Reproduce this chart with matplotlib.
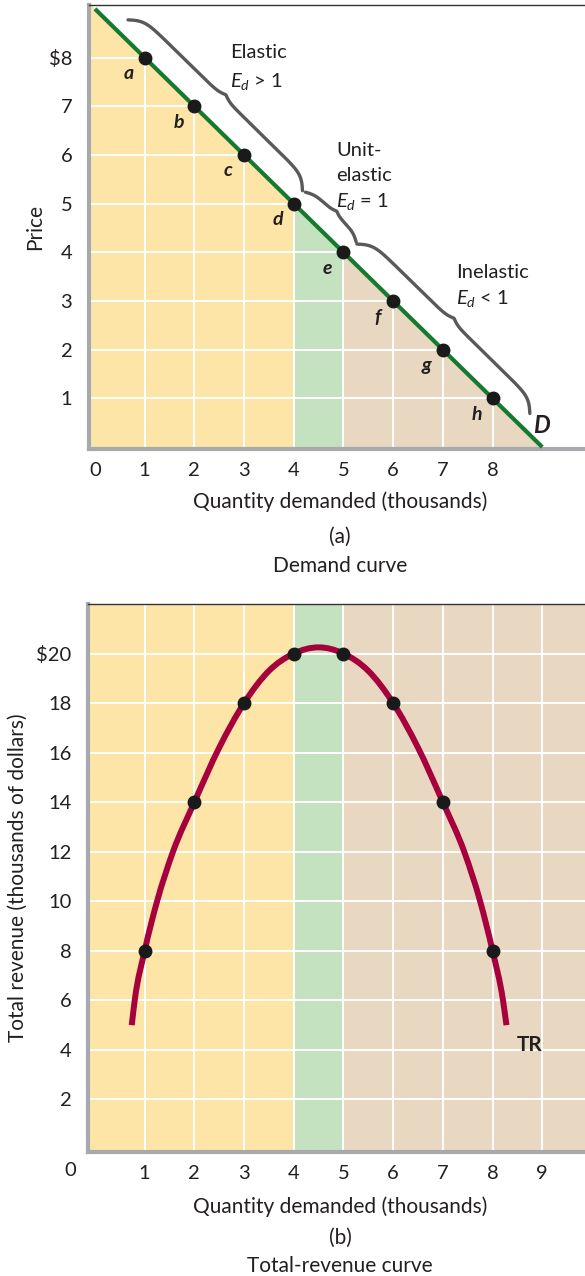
import numpy as np
import matplotlib
matplotlib.use("Agg")
from matplotlib import pyplot as plt
from matplotlib.path import Path
from matplotlib.patches import PathPatch

plt.rcParams['font.family'] = ['Lato', 'DejaVu Sans']
plt.rcParams['mathtext.fontset'] = 'custom'
plt.rcParams['mathtext.rm'] = 'Lato'
plt.rcParams['mathtext.it'] = 'Lato:italic'

# demand schedule
quantity = [1, 2, 3, 4, 5, 6, 7, 8]
price = [8, 7, 6, 5, 4, 3, 2, 1]
point_names = ['a', 'b', 'c', 'd', 'e', 'f', 'g', 'h']
line_q = [0, 9]
line_p = [9, 0]

# total revenue points and the curve
revenue = [8, 14, 18, 20, 20, 18, 14, 8]
tr_q = [0.74, 0.8, 1.0, 1.25, 1.57, 2.0, 2.5, 3.0, 3.5, 4.0, 4.5, 5.0, 5.5, 6.0, 6.5,
        7.0, 7.43, 7.75, 8.0, 8.21, 8.28]
tr_v = [5.0, 6.0, 8.0, 10.0, 12.0, 14.0, 16.2, 18.0, 19.3, 20.0, 20.25, 20.0, 19.3, 18.0, 16.2,
        14.0, 12.0, 10.0, 8.0, 6.0, 5.0]

yellow = '#FDE5A8'
green = '#C5E2C0'
tan = '#E8D8C2'
gray_spine = '#A7A9AC'
txt = '#231F20'
FS = 14.5
LS = 15

fig = plt.figure(figsize=(5.85, 12.76), dpi=100)

# ---------- (a) demand curve ----------
ax = fig.add_axes([89 / 585, 1 - 449 / 1276, 496 / 585, 444 / 1276])
ax.set_xlim(-0.12, 9.86)
ax.set_ylim(-0.04, 9.08)

def dem(q):
    return line_p[0] + (line_p[1] - line_p[0]) * (q - line_q[0]) / (line_q[1] - line_q[0])

for x0, x1, c in [(-0.12, 4, yellow), (4, 5, green), (5, 9, tan)]:
    qs = np.linspace(x0, x1, 50)
    ax.fill_between(qs, 0, dem(qs), color=c, lw=0, zorder=1)

for q in range(1, 9):
    ax.axvline(q, color='white', lw=1.4, zorder=2)
for p in range(1, 9):
    ax.axhline(p, color='white', lw=1.4, zorder=2)

ax.plot(line_q, line_p, color='#157A2F', lw=3, zorder=3, solid_capstyle='butt')
ax.plot(quantity, price, 'o', color='#1A1A1A', ms=9, zorder=4)
for q, p, n in zip(quantity, price, point_names):
    ax.annotate(n, (q, p), xytext=(-16, -16), textcoords='offset pixels',
                ha='center', va='center', fontsize=14, fontweight='bold',
                style='italic', color=txt)
ax.text(8.98, 0.45, 'D', fontsize=17, fontweight='bold', style='italic',
        ha='center', va='center', color=txt)


# curly braces beside the demand line; s runs along the quantity axis
def brace(ax, s0, s1, off, h1, h2, b1=11.0, b2=16.0):
    s = np.linspace(s0, s1, 600)
    um = (s1 - s0) / 2
    u = np.minimum(s - s0, s1 - s)
    hook = (1 / (1 + np.exp(-b1 * u)) - 0.5) * 2
    tip = 2 / (1 + np.exp(-b2 * (u - um)))
    d = off + h1 * hook + h2 * tip
    ax.plot(s + d / 2, dem(s) + d / 2, color='#58595B', lw=2.4,
            solid_capstyle='round', zorder=3, clip_on=False)


brace(ax, 0.445, 3.955, 0.44, 0.33, 0.10)
brace(ax, 4.0, 5.02, 0.47, 0.16, 0.08, b1=14.0, b2=20.0)
brace(ax, 5.05, 8.53, 0.44, 0.33, 0.10)

ax.text(2.72, 8.1, 'Elastic', fontsize=FS, color=txt, va='center')
ax.text(2.72, 7.5, '$E_d$ > 1', fontsize=FS, color=txt, va='center')
ax.text(4.85, 6.1, 'Unit-', fontsize=FS, color=txt, va='center')
ax.text(4.85, 5.57, 'elastic', fontsize=FS, color=txt, va='center')
ax.text(4.85, 5.04, '$E_d$ = 1', fontsize=FS, color=txt, va='center')
ax.text(7.27, 3.58, 'Inelastic', fontsize=FS, color=txt, va='center')
ax.text(7.27, 3.05, '$E_d$ < 1', fontsize=FS, color=txt, va='center')

ax.set_xticks(range(0, 9))
ax.set_xticklabels([str(i) for i in range(0, 9)])
ax.set_yticks(range(1, 9))
ax.set_yticklabels(['1', '2', '3', '4', '5', '6', '7', '$8'])
ax.tick_params(length=0, labelsize=FS, colors=txt, pad=9)
ax.tick_params(axis='y', pad=12)
for sp in ['left', 'bottom']:
    ax.spines[sp].set_color(gray_spine)
    ax.spines[sp].set_linewidth(3)
ax.spines['top'].set_color('#333333')
ax.spines['top'].set_linewidth(1)
ax.spines['right'].set_visible(False)
ax.set_ylabel('Price', fontsize=LS, color=txt, va='center')
ax.yaxis.set_label_coords((35 - 89) / 496, 0.5)
ax.set_xlabel('Quantity demanded (thousands)', fontsize=LS, color=txt, va='center')
ax.xaxis.set_label_coords(251 / 496, -(502 - 449) / 444)
fig.text(340 / 585, 1 - 537 / 1276, '(a)', fontsize=LS, color=txt, ha='center', va='center')
fig.text(340 / 585, 1 - 566 / 1276, 'Demand curve', fontsize=LS, color=txt, ha='center', va='center')

# ---------- (b) total revenue ----------
bx = fig.add_axes([88 / 585, 1 - 1151.5 / 1276, 497 / 585, 547.5 / 1276])
bx.set_xlim(-0.14, 9.86)
bx.set_ylim(-0.1, 22.0)
bx.axvspan(-0.14, 4, color=yellow, lw=0, zorder=1)
bx.axvspan(4, 5, color=green, lw=0, zorder=1)
bx.axvspan(5, 9.86, color=tan, lw=0, zorder=1)
for q in range(1, 10):
    bx.axvline(q, color='white', lw=1.4, zorder=2)
for v in range(2, 22, 2):
    bx.axhline(v, color='white', lw=1.4, zorder=2)

# smooth curve through the read points: cubic Hermite in q drawn as Bezier segments
tq = np.array(tr_q)
tv = np.array(tr_v)
n = len(tq)
slope = np.empty(n)
slope[0] = (tv[1] - tv[0]) / (tq[1] - tq[0])
slope[-1] = (tv[-1] - tv[-2]) / (tq[-1] - tq[-2])
for i in range(1, n - 1):
    h0, h1 = tq[i] - tq[i - 1], tq[i + 1] - tq[i]
    d0, d1 = (tv[i] - tv[i - 1]) / h0, (tv[i + 1] - tv[i]) / h1
    slope[i] = (h1 * d0 + h0 * d1) / (h0 + h1)
verts = [(tq[0], tv[0])]
codes = [Path.MOVETO]
for i in range(n - 1):
    h = (tq[i + 1] - tq[i]) / 3
    verts += [(tq[i] + h, tv[i] + slope[i] * h),
              (tq[i + 1] - h, tv[i + 1] - slope[i + 1] * h),
              (tq[i + 1], tv[i + 1])]
    codes += [Path.CURVE4] * 3
bx.add_patch(PathPatch(Path(verts, codes), fill=False, edgecolor='#A6003D',
                       lw=4.3, capstyle='butt', zorder=3))
bx.plot(quantity, revenue, 'o', color='#1A1A1A', ms=9, zorder=4)
bx.text(8.75, 4.2, 'TR', fontsize=15, fontweight='bold', ha='center', va='center', color=txt)

bx.set_xticks(range(1, 10))
bx.set_xticklabels([str(i) for i in range(1, 10)])
bx.set_yticks(range(2, 22, 2))
bx.set_yticklabels([str(v) for v in range(2, 20, 2)] + ['$20'])
bx.tick_params(length=0, labelsize=FS, colors=txt, pad=10)
bx.tick_params(axis='y', pad=12)
bx.text(-0.5, -0.85, '0', fontsize=FS, color=txt, ha='center', va='center')
for sp in ['left', 'bottom']:
    bx.spines[sp].set_color(gray_spine)
    bx.spines[sp].set_linewidth(3)
bx.spines['top'].set_color('#333333')
bx.spines['top'].set_linewidth(1)
bx.spines['right'].set_visible(False)
bx.set_ylabel('Total revenue (thousands of dollars)', fontsize=LS, color=txt, va='center')
bx.yaxis.set_label_coords((18 - 88) / 497, 0.5)
bx.set_xlabel('Quantity demanded (thousands)', fontsize=LS, color=txt, va='center')
bx.xaxis.set_label_coords(252 / 497, -(1207 - 1151.5) / 547.5)
fig.text(340 / 585, 1 - 1238 / 1276, '(b)', fontsize=LS, color=txt, ha='center', va='center')
fig.text(340 / 585, 1 - 1266 / 1276, 'Total-revenue curve', fontsize=LS, color=txt, ha='center', va='center')

fig.savefig('out.png', dpi=100)
